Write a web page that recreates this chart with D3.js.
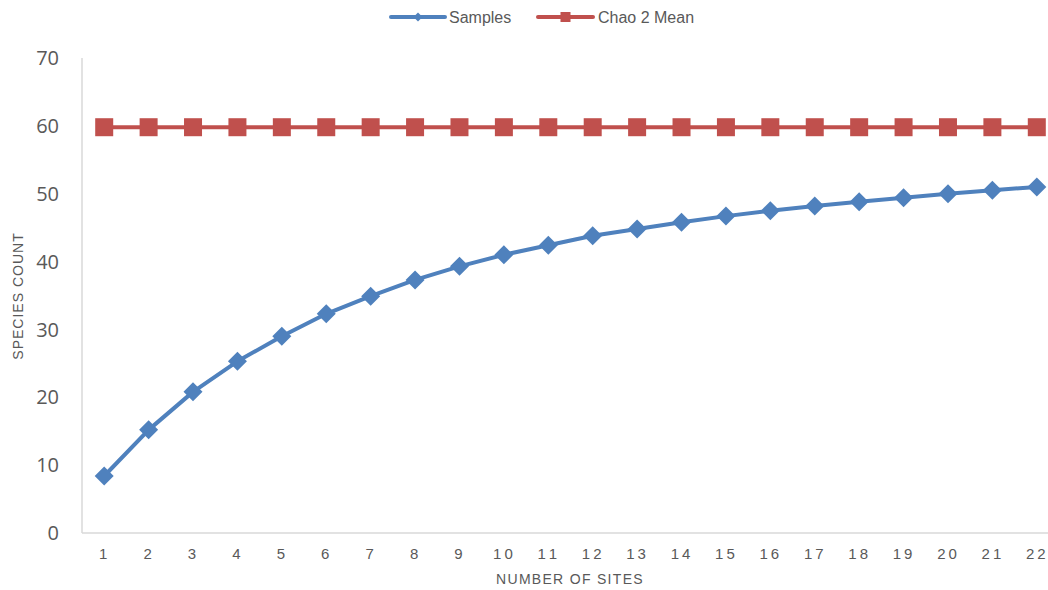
<!DOCTYPE html>
<html><head><meta charset="utf-8">
<script src="https://cdn.jsdelivr.net/npm/d3@7"></script>
<style>body{margin:0;background:#fff;}svg{display:block;}</style>
</head><body>
<svg id="c" width="1048" height="590"></svg>
<script>
const sites = d3.range(1, 23).map(String);
const samples = [8.4,15.2,20.8,25.3,29.0,32.3,34.9,37.3,39.3,41.0,42.4,43.8,44.8,45.8,46.7,47.5,48.2,48.8,49.4,50.0,50.5,51.0];
const chao2 = [59.8,59.8,59.8,59.8,59.8,59.8,59.8,59.8,59.8,59.8,59.8,59.8,59.8,59.8,59.8,59.8,59.8,59.8,59.8,59.8,59.8,59.8];
const yTicks = [0,10,20,30,40,50,60,70];
const seriesNames = ["Samples","Chao 2 Mean"];

const svg = d3.select("#c");
const L = 82, R = 1059, T = 58, B = 533;
const x = d3.scaleBand().domain(sites).range([L, R]);
const y = d3.scaleLinear().domain([0, 70]).range([B, T]);
const blue = "#4F81BD", red = "#C0504D", grey = "#595959";
const sans = "'Liberation Sans', Arial, sans-serif";

// axes lines
svg.append("line").attr("x1", L).attr("x2", L).attr("y1", T).attr("y2", B).attr("stroke", "#D9D9D9").attr("stroke-width", 1.5);
svg.append("line").attr("x1", L).attr("x2", 1048).attr("y1", B).attr("y2", B).attr("stroke", "#D9D9D9").attr("stroke-width", 1.5);

// y labels
svg.append("g").selectAll("text").data(yTicks).join("text")
  .attr("x", 59).attr("y", d => y(d)).attr("dy", "0.36em")
  .attr("text-anchor", "end").attr("fill", grey)
  .style("font-family", "'Open Sans', sans-serif").style("font-size", "20px")
  .text(d => d);

// x labels (spacing only between characters, none trailing)
svg.append("g").selectAll("text").data(sites).join("text")
  .attr("x", d => x(d) + x.bandwidth() / 2 - 1).attr("y", 553.5).attr("dy", "0.36em")
  .attr("text-anchor", "middle").attr("fill", grey)
  .style("font-family", sans).style("font-size", "15px")
  .each(function(d) {
    const t = d3.select(this);
    const chars = d.split("");
    chars.forEach((c, i) => {
      t.append("tspan").style("letter-spacing", i < chars.length - 1 ? "3px" : "0px").text(c);
    });
  });

// axis titles
svg.append("text").attr("transform", "translate(18,296) rotate(-90)")
  .attr("text-anchor", "middle").attr("dy", "0.36em").attr("fill", grey)
  .style("font-family", sans).style("font-size", "14px").style("letter-spacing", "1px")
  .text("SPECIES COUNT");
svg.append("text").attr("x", 570).attr("y", 579).attr("dy", "0.36em")
  .attr("text-anchor", "middle").attr("fill", grey)
  .style("font-family", sans).style("font-size", "14px").style("letter-spacing", "1.3px")
  .text("NUMBER OF SITES");

const cx = d => x(d) + x.bandwidth() / 2;
const line = d3.line().x((d, i) => cx(sites[i])).y(d => y(d));

// Chao line
svg.append("path").datum(chao2).attr("d", line).attr("fill", "none").attr("stroke", red).attr("stroke-width", 4);
svg.append("g").selectAll("rect").data(chao2).join("rect")
  .attr("x", (d, i) => cx(sites[i]) - 9).attr("y", d => y(d) - 9)
  .attr("width", 18).attr("height", 18).attr("fill", red);

// Samples line
svg.append("path").datum(samples).attr("d", line).attr("fill", "none").attr("stroke", blue).attr("stroke-width", 4).attr("stroke-linejoin", "round");
svg.append("g").selectAll("path.m").data(samples).join("path").attr("class", "m")
  .attr("transform", (d, i) => `translate(${cx(sites[i])},${y(d)})`)
  .attr("d", "M0,-9.5L9.5,0L0,9.5L-9.5,0Z").attr("fill", blue);

// legend
const lg = svg.append("g");
const legendItems = [
  {name: seriesNames[0], color: blue, x0: 391, x1: 445, tx: 449, shape: "diamond"},
  {name: seriesNames[1], color: red, x0: 538, x1: 593, tx: 598, shape: "square"}
];
legendItems.forEach(it => {
  lg.append("line").attr("x1", it.x0).attr("x2", it.x1).attr("y1", 17).attr("y2", 17)
    .attr("stroke", it.color).attr("stroke-width", 4).attr("stroke-linecap", "round");
  const mx = (it.x0 + it.x1) / 2;
  if (it.shape === "diamond") {
    lg.append("path").attr("transform", `translate(${mx},17)`).attr("d", "M0,-4.5L4.5,0L0,4.5L-4.5,0Z").attr("fill", it.color);
  } else {
    lg.append("rect").attr("x", mx - 5).attr("y", 12).attr("width", 10).attr("height", 10).attr("fill", it.color);
  }
  lg.append("text").attr("x", it.tx).attr("y", 17).attr("dy", "0.36em").attr("fill", grey)
    .style("font-family", sans).style("font-size", "16px")
    .text(it.name);
});
</script>
</body></html>
